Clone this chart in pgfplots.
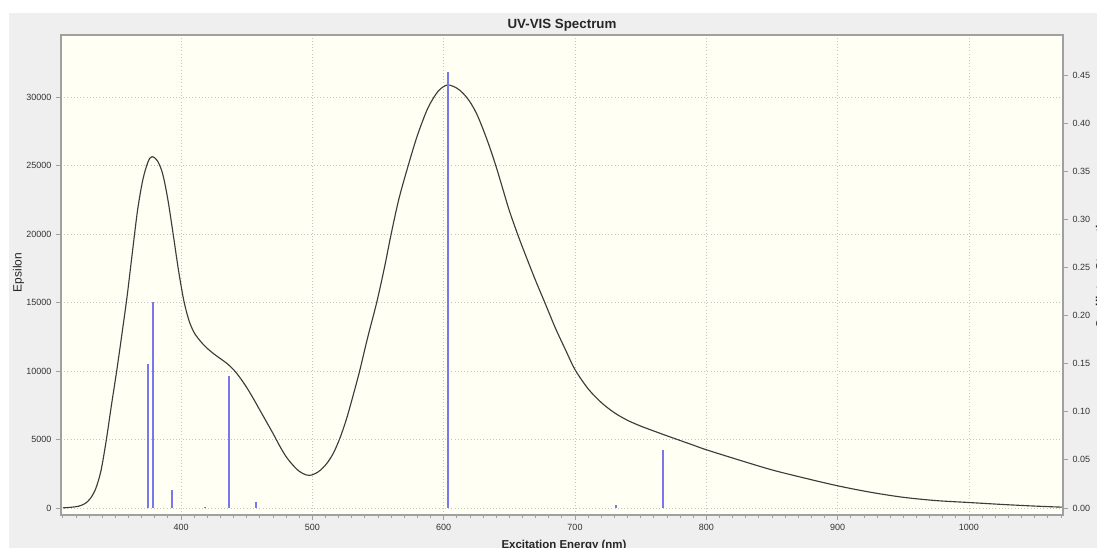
\documentclass[border=0pt]{standalone}
\usepackage{fontspec}
\setmainfont{Liberation Sans}
\usepackage{pgfplots}
\pgfplotsset{compat=1.18}

\definecolor{panel}{HTML}{EFEFEF}
\definecolor{plotbg}{HTML}{FFFFF4}
\definecolor{framec}{HTML}{A0A0A0}
\definecolor{gridc}{HTML}{C4C4C4}
\definecolor{stickc}{HTML}{7878EC}
\definecolor{curvec}{HTML}{3C3C3C}
\definecolor{ticktext}{HTML}{333333}

% broadened absorption spectrum (nm, epsilon)
\pgfplotstableread{
nm eps
310 10
316 50
322 130
327 330
331 700
335 1400
339 2700
343 4900
347 7500
351 10000
355 12700
359 15500
363 18700
367 21800
371 24000
375 25300
378 25650
382 25350
386 24400
390 22500
394 20000
398 17400
402 15200
406 13700
410 12800
415 12150
420 11650
425 11250
430 10900
435 10550
440 10100
445 9500
450 8800
455 8000
460 7150
465 6300
470 5450
475 4550
480 3750
485 3150
490 2680
495 2420
498 2380
502 2500
506 2750
511 3250
516 4000
521 5100
526 6500
531 8200
536 10000
542 12400
549 15000
555 17600
560 20000
566 22600
573 25000
580 27200
588 29200
596 30450
603 30880
610 30650
615 30250
620 29650
625 28800
630 27650
635 26350
640 24900
645 23300
650 21700
657 19800
663 18300
670 16600
677 15000
685 13150
693 11500
700 10100
710 8700
720 7700
730 6950
740 6400
750 5980
760 5620
770 5270
780 4930
790 4590
800 4250
825 3500
850 2780
875 2180
900 1620
925 1150
950 780
975 540
1000 400
1025 260
1050 140
1071 60
}\spectrum

% excitations (nm, oscillator strength)
\pgfplotstableread{
nm f
374.7 0.1493
378.5 0.2137
393.3 0.0184
418.0 0.0015
436.5 0.1371
457.0 0.0065
603.3 0.4533
731.0 0.0030
767.2 0.0603
}\sticks

\pgfplotsset{
  common/.style={
    at={(45.75pt,24.75pt)}, anchor=south west,
    scale only axis, width=751.5pt, height=360pt,
    xmin=308.6, xmax=1071.6,
    axis line style={draw=framec, line width=1.3pt},
    tick align=outside,
    major tick length=3.75pt, minor tick length=2.25pt,
    every tick/.style={draw=framec, line width=0.6pt},
    tick label style={font=\fontsize{6.75}{8}\selectfont, text=ticktext},
    /pgf/number format/assume math mode=true,
  },
}

\begin{document}
\begin{tikzpicture}
\begin{scope}[x=0.75pt,y=0.75pt]
  \fill[white] (0,0) rectangle (1097,548);
  \fill[panel] (9,0) rectangle (1097,535);
\end{scope}

\begin{axis}[
  common,
  ymin=-511, ymax=34530,
  axis background/.style={fill=plotbg},
  xtick={400,500,...,1000},
  minor xtick={310,320,...,1070},
  ytick={0,5000,10000,15000,20000,25000,30000},
  xtick pos=left, ytick pos=left,
  grid=major,
  major grid style={draw=gridc, dotted, line width=0.5pt},
  scaled y ticks=false,
  yticklabel style={/pgf/number format/.cd, fixed, set thousands separator={}},
  xticklabel style={/pgf/number format/.cd, set thousands separator={}},
  every axis title shift=0pt,
  title={UV-VIS Spectrum},
  title style={font=\bfseries\fontsize{10}{12}\selectfont, text=black!85,
    at={(axis description cs:0.5,1.0139)}, anchor=base},
  xlabel={Excitation Energy (nm)},
  xlabel style={font=\bfseries\fontsize{8.6}{10}\selectfont, text=black!85,
    at={(axis description cs:0.502,-0.0694)}, anchor=base},
  ylabel={Epsilon},
  ylabel style={font=\fontsize{9}{10}\selectfont, text=black!85,
    at={(axis description cs:-0.0392,0.505)}, anchor=base},
]
  \addplot[curvec, line width=0.85pt, smooth] table[x=nm, y=eps] {\spectrum};
\end{axis}

\begin{axis}[
  common,
  ymin=-0.00727, ymax=0.4915,
  axis x line=none,
  axis y line*=right,
  ytick={0,0.05,0.10,0.15,0.20,0.25,0.30,0.35,0.40,0.45},
  yticklabel style={/pgf/number format/.cd, fixed, fixed zerofill, precision=2},
  ylabel={Oscillator Strength},
  ylabel style={font=\bfseries\fontsize{9}{10}\selectfont, text=black!85,
    at={(axis description cs:1.0415,0.5)}, anchor=base, rotate=0},
]
  \addplot[ycomb, draw=stickc, line width=1.4pt, mark=none] table[x=nm, y=f] {\sticks};
\end{axis}

\pgfresetboundingbox
\useasboundingbox (0,0) rectangle (822.75pt,411pt);
\end{tikzpicture}
\end{document}
